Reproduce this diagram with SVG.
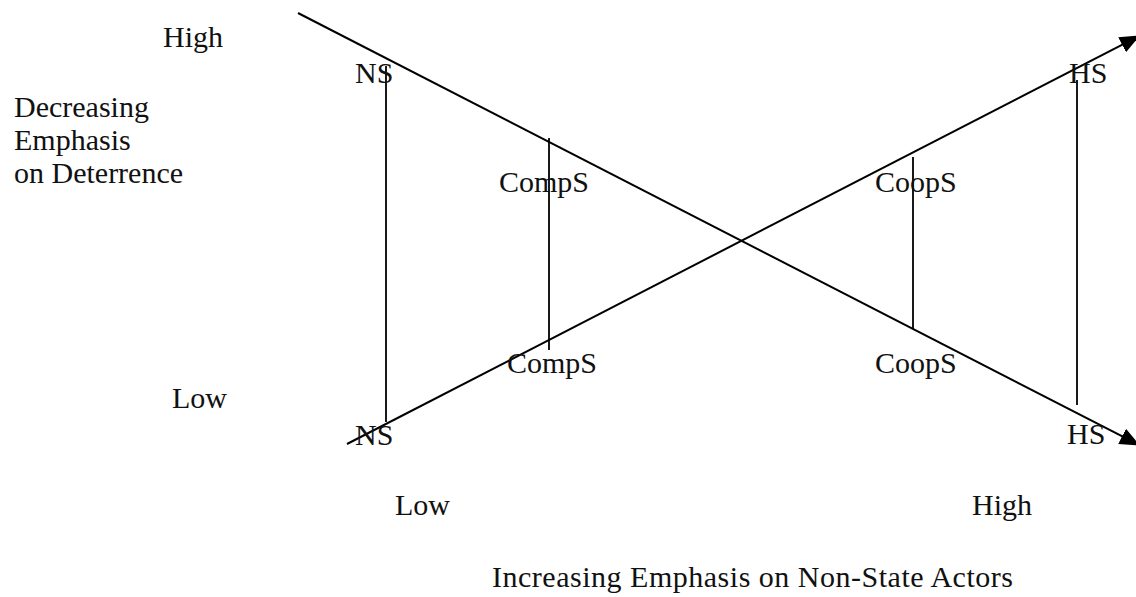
<svg xmlns="http://www.w3.org/2000/svg" width="1136" height="597" viewBox="0 0 1136 597">
<style>
text{font-family:"Liberation Serif","Times New Roman",serif;font-size:30px;fill:#111}
.ln{stroke:#000;stroke-width:2;fill:none}
.vl{stroke:#000;stroke-width:1.8;fill:none}
</style>
<defs>
<marker id="ah" markerUnits="userSpaceOnUse" markerWidth="22" markerHeight="18" refX="19" refY="8.5" orient="auto">
<path d="M0,0 L20,8.5 L0,17 Z" fill="#000"/>
</marker>
</defs>
<rect width="1136" height="597" fill="#fff"/>
<g id="connectors">
<line class="ln" x1="298" y1="13" x2="1139" y2="445" marker-end="url(#ah)"/>
<line class="ln" x1="347" y1="444" x2="1139" y2="36" marker-end="url(#ah)"/>
<line class="vl" x1="386" y1="66" x2="386" y2="422"/>
<line class="vl" x1="549" y1="138" x2="549" y2="350"/>
<line class="vl" x1="913" y1="157" x2="913" y2="329"/>
<line class="vl" x1="1077" y1="80" x2="1077" y2="405"/>
</g>
<g id="y-axis-labels">
<text x="163" y="47">High</text>
<text x="14" y="117">Decreasing</text>
<text x="14" y="150">Emphasis</text>
<text x="14" y="183">on Deterrence</text>
<text x="172" y="408">Low</text>
</g>
<g id="node-ns-top"><text x="355" y="83">NS</text></g>
<g id="node-hs-top"><text x="1069" y="83">HS</text></g>
<g id="node-comps-top"><text x="499" y="192">CompS</text></g>
<g id="node-coops-top"><text x="875" y="192">CoopS</text></g>
<g id="node-comps-bottom"><text x="507" y="373">CompS</text></g>
<g id="node-coops-bottom"><text x="875" y="373">CoopS</text></g>
<g id="node-ns-bottom"><text x="355" y="445">NS</text></g>
<g id="node-hs-bottom"><text x="1067" y="444">HS</text></g>
<g id="x-axis-labels">
<text x="395" y="515">Low</text>
<text x="972" y="515">High</text>
<text x="492" y="587" textLength="521" lengthAdjust="spacing">Increasing Emphasis on Non-State Actors</text>
</g>
</svg>
